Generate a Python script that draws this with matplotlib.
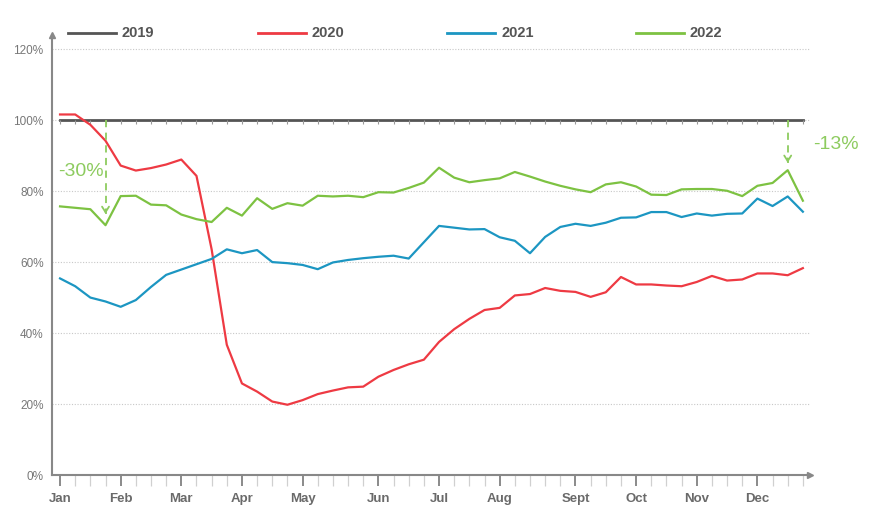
import matplotlib
matplotlib.use("Agg")
import matplotlib.pyplot as plt
from matplotlib.lines import Line2D

plt.rcParams['font.family'] = ['Liberation Sans', 'DejaVu Sans']

weeks = list(range(50))
s2019 = [100.0] * 50
s2020 = [101.6, 101.6, 98.7, 94.2, 87.2, 85.8, 86.5, 87.5, 88.9, 84.3,
         63.6, 36.7, 25.8, 23.5, 20.7, 19.8, 21.1, 22.8, 23.8, 24.7,
         24.9, 27.7, 29.6, 31.2, 32.5, 37.5, 41.1, 44.0, 46.5, 47.1,
         50.6, 51.0, 52.7, 51.9, 51.6, 50.2, 51.5, 55.8, 53.7, 53.7,
         53.4, 53.2, 54.4, 56.1, 54.8, 55.1, 56.8, 56.8, 56.3, 58.3]
s2021 = [55.4, 53.2, 50.0, 48.9, 47.4, 49.3, 53.0, 56.4, 57.9, 59.4,
         60.9, 63.6, 62.5, 63.4, 60.0, 59.7, 59.2, 58.0, 59.9, 60.6,
         61.1, 61.5, 61.8, 61.0, 65.6, 70.2, 69.7, 69.2, 69.3, 67.0,
         66.0, 62.5, 67.1, 69.9, 70.8, 70.2, 71.1, 72.5, 72.6, 74.1,
         74.1, 72.7, 73.7, 73.1, 73.6, 73.7, 77.9, 75.8, 78.5, 74.2]
s2022 = [75.7, 75.3, 74.9, 70.4, 78.6, 78.7, 76.2, 76.0, 73.4, 72.1,
         71.3, 75.3, 73.1, 78.0, 75.0, 76.6, 75.9, 78.7, 78.5, 78.7,
         78.3, 79.7, 79.6, 80.9, 82.4, 86.6, 83.8, 82.5, 83.1, 83.6,
         85.4, 84.1, 82.7, 81.5, 80.5, 79.7, 81.9, 82.5, 81.3, 79.0,
         78.9, 80.5, 80.6, 80.6, 80.1, 78.6, 81.5, 82.3, 85.9, 77.3]

month_pos = [0, 4, 8, 12, 16, 21, 25, 29, 34, 38, 42, 46]
month_labels = ['Jan', 'Feb', 'Mar', 'Apr', 'May', 'Jun', 'Jul', 'Aug', 'Sept', 'Oct', 'Nov', 'Dec']
y_ticks = [0, 20, 40, 60, 80, 100, 120]
y_labels = ['0%', '20%', '40%', '60%', '80%', '100%', '120%']

series_names = ['2019', '2020', '2021', '2022']
colors = ['#555555', '#EE3A43', '#1C96C2', '#7DC242']
ann_green = '#8DCB5F'

W, H = 869, 520
fig = plt.figure(figsize=(W / 100, H / 100), dpi=100)
ax = fig.add_axes([52 / W, 45 / H, 758 / W, 440 / H])

ax.set_xlim(-0.53, 49.47)
ax.set_ylim(0, 124)

# grid
ax.set_yticks(y_ticks)
ax.set_yticklabels(y_labels)
ax.yaxis.grid(True, linestyle=(0, (1, 1.5)), color='#c8c8c8', lw=0.8)
ax.set_axisbelow(True)

# lines
ax.plot(weeks, s2019, color=colors[0], lw=2.0, marker=3, ms=3, mec='#999999', mew=0.8, zorder=3)
ax.plot(weeks, s2020, color=colors[1], lw=1.6, zorder=4)
ax.plot(weeks, s2021, color=colors[2], lw=1.6, zorder=4)
ax.plot(weeks, s2022, color=colors[3], lw=1.6, zorder=5)

# spines
for s in ['top', 'right']:
    ax.spines[s].set_visible(False)
for s in ['left', 'bottom']:
    ax.spines[s].set_color('#888888')
    ax.spines[s].set_linewidth(1.5)
ax.plot(1, 0, marker='>', color='#888888', ms=4, transform=ax.transAxes, clip_on=False)
ax.plot(0, 1, marker='^', color='#888888', ms=4, transform=ax.transAxes, clip_on=False)

# ticks
ax.set_xticks(month_pos)
ax.set_xticklabels(month_labels, fontweight='bold', color='#6a6a6a', fontsize=9.5)
ax.set_xticks(weeks, minor=True)
ax.tick_params(axis='x', which='major', length=8, width=1.2, color='#777777', pad=5)
ax.tick_params(axis='x', which='minor', length=8, width=0.9, color='#d0d0d0')
ax.tick_params(axis='y', length=0, pad=6, labelcolor='#777777', labelsize=8.5)

# annotations
ax.plot([3, 3], [100, 73.5], color=ann_green, lw=1.3, ls=(0, (4, 3)), zorder=6)
ax.annotate('', xy=(3, 72.8), xytext=(3, 75.5),
            arrowprops=dict(arrowstyle='->,head_length=0.4,head_width=0.25', color=ann_green, lw=1.3), zorder=6)
ax.text(-0.15, 85.5, '-30%', color=ann_green, fontsize=14, ha='left', va='center')

ax.plot([48, 48], [100, 88.0], color=ann_green, lw=1.3, ls=(0, (4, 3)), zorder=6)
ax.annotate('', xy=(48, 87.2), xytext=(48, 90.0),
            arrowprops=dict(arrowstyle='->,head_length=0.4,head_width=0.25', color=ann_green, lw=1.3), zorder=6)
ax.text(49.7, 93.2, '-13%', color=ann_green, fontsize=14, ha='left', va='center', clip_on=False)

# legend (manual, figure pixel coords)
leg_x = [68, 258, 447, 636]
ly = 1 - 33 / H
for x0, name, c in zip(leg_x, series_names, colors):
    fig.add_artist(Line2D([x0 / W, (x0 + 48) / W], [ly, ly], color=c, lw=2.0))
    fig.text((x0 + 54) / W, ly, name, color='#555555', fontsize=10.5, fontweight='bold',
             ha='left', va='center')

fig.savefig('out.png', dpi=100)
